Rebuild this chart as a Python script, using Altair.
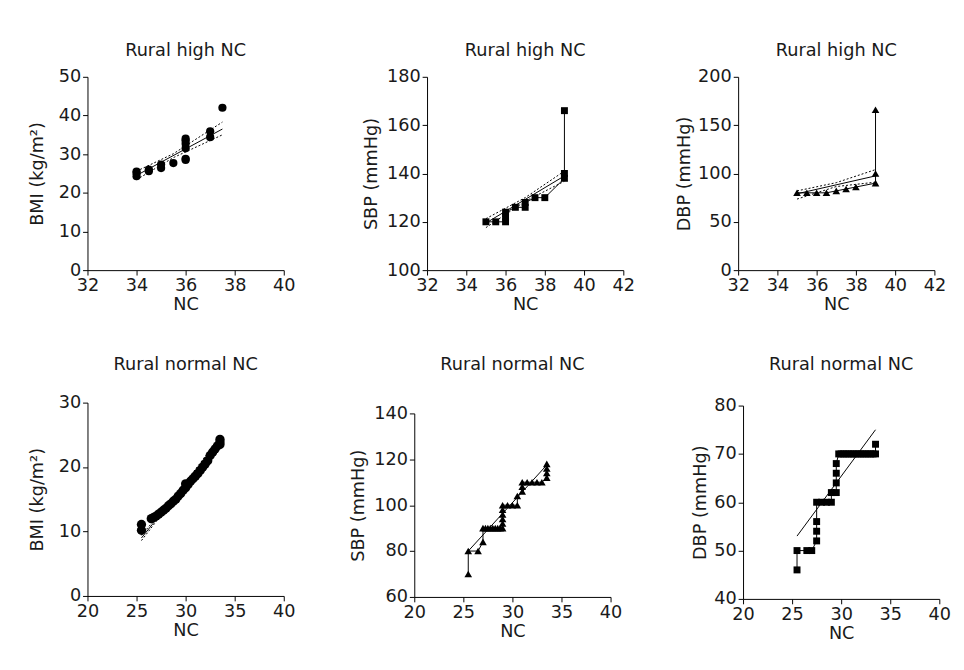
import altair as alt
import pandas as pd

FONT = "DejaVu Sans"

# ---------- Panel 1: Rural high NC, BMI ----------
p1_nc = [34, 34, 34, 34.5, 34.5, 35, 35, 35.5, 36, 36, 36, 36, 36, 36, 37, 37, 37.5]
p1_val = [24.3, 25.1, 25.5, 25.6, 26.0, 26.4, 27.3, 27.7, 28.5, 28.8, 31.5, 32.7, 33.5, 34.0, 34.4, 35.9, 42.0]
p1_fit_nc = [34, 37.5]
p1_fit = [24.5, 36.5]
p1_ci_nc = [34, 35.5, 37.5]
p1_ci_up = [25.6, 30.1, 38.3]
p1_ci_lo = [23.4, 29.1, 35.0]

# ---------- Panel 2: Rural high NC, SBP ----------
p2_nc = [35, 35.5, 36, 36, 36, 36.5, 37, 37, 37.5, 38, 39, 39, 39]
p2_val = [120, 120, 120, 122, 124, 126, 126, 128, 130, 130, 138, 140, 166]
p2_fit_nc = [35, 39]
p2_fit = [119.5, 139.0]
p2_ci_nc = [35, 37, 39]
p2_ci_up = [121.3, 130.0, 141.0]
p2_ci_lo = [117.6, 128.5, 136.8]

# ---------- Panel 3: Rural high NC, DBP ----------
p3_nc = [35, 35.5, 36, 36.5, 37, 37.5, 38, 39, 39, 39]
p3_val = [80, 80, 80, 80, 82, 84, 86, 90, 100, 166]
p3_fit_nc = [35, 39]
p3_fit = [79, 97.5]
p3_ci_nc = [35, 37, 39]
p3_ci_up = [82, 90.5, 104]
p3_ci_lo = [73.5, 86.5, 91]

# ---------- Panel 4: Rural normal NC, BMI ----------
p4_nc = [25.5, 25.5, 26.5, 26.75, 27, 27.25, 27.5, 27.75, 28, 28.25, 28.5, 28.75,
         29, 29.25, 29.5, 29.75, 30, 30, 30.25, 30.5, 30.75, 31, 31.25, 31.5,
         31.75, 32, 32.25, 32.5, 32.75, 33, 33.25, 33.5, 33.5, 33.5]
p4_val = [10.2, 11.1, 12.0, 12.2, 12.4, 12.7, 13.0, 13.3, 13.6, 14.0, 14.3, 14.7,
          15.0, 15.5, 15.9, 16.4, 16.8, 17.4, 17.3, 17.8, 18.2, 18.6, 19.0, 19.5,
          20.0, 20.5, 21.0, 21.8, 22.3, 22.8, 23.3, 23.5, 23.9, 24.3]
p4_fit_nc = [25.5, 33.5]
p4_fit = [9.0, 24.2]
p4_ci_nc = [25.5, 29.5, 33.5]
p4_ci_up = [9.4, 16.7, 24.6]
p4_ci_lo = [8.6, 16.5, 23.8]

# ---------- Panel 5: Rural normal NC, SBP ----------
p5_nc = [25.5, 25.5, 26.5, 27, 27, 27.25, 27.5, 27.75, 28, 28.25, 28.5, 28.75,
         29, 29, 29, 29, 29, 29, 29.5, 30, 30.5, 30.5, 31, 31, 31, 31.5, 32,
         32.5, 33, 33.5, 33.5, 33.5, 33.5]
p5_val = [70, 80, 80, 84, 90, 90, 90, 90, 90, 90, 90, 90,
          90, 92, 94, 96, 98, 100, 100, 100, 100, 104, 106, 108, 110, 110, 110,
          110, 110, 112, 114, 116, 118]
p5_fit_nc = [25.5, 33.5]
p5_fit = [80, 117.5]

# ---------- Panel 6: Rural normal NC, DBP ----------
p6_nc = [25.5, 25.5, 26.5, 27, 27.5, 27.5, 27.5, 27.5, 28, 28.5, 29, 29,
         29.5, 29.5, 29.5, 29.5, 29.75, 30, 30.25, 30.5, 30.75, 31, 31.25,
         31.5, 31.75, 32, 32.25, 32.5, 32.75, 33, 33.25, 33.5, 33.5]
p6_val = [46, 50, 50, 50, 52, 54, 56, 60, 60, 60, 60, 62,
          62, 64, 66, 68, 70, 70, 70, 70, 70, 70, 70,
          70, 70, 70, 70, 70, 70, 70, 70, 70, 72]
p6_fit_nc = [25.5, 33.5]
p6_fit = [53, 75]

titles = ["Rural high NC", "Rural high NC", "Rural high NC",
          "Rural normal NC", "Rural normal NC", "Rural normal NC"]
y_titles = ["BMI (kg/m²)", "SBP (mmHg)", "DBP (mmHg)",
            "BMI (kg/m²)", "SBP (mmHg)", "DBP (mmHg)"]


def title_params(title, toff):
    return alt.TitleParams(title, fontSize=18, font=FONT, fontWeight="normal",
                           color="#1a1a1a", offset=toff, anchor="middle", frame="group")


def panel(nc, val, shape, size, connect, fit_nc, fit, ci_nc, ci_up, ci_lo,
          xdom, xticks, ydom, yticks, title, ytitle, toff, ytp, h):
    xe = alt.X("x:Q", scale=alt.Scale(domain=xdom, nice=False, zero=False),
               axis=alt.Axis(values=xticks, title="NC", format="d"))
    ye = alt.Y("y:Q", scale=alt.Scale(domain=ydom, nice=False, zero=False),
               axis=alt.Axis(values=yticks, title=ytitle, titlePadding=ytp, format="d"))
    df = pd.DataFrame({"x": nc, "y": val, "i": list(range(len(nc)))})
    layers = []
    if ci_nc is not None:
        cdf = pd.DataFrame({
            "x": list(ci_nc) + list(ci_nc),
            "y": list(ci_up) + list(ci_lo),
            "band": ["upper"] * len(ci_nc) + ["lower"] * len(ci_nc),
        })
        layers.append(alt.Chart(cdf).mark_line(color="black", strokeWidth=1, strokeDash=[2, 2])
                      .encode(x=xe, y=ye, detail="band:N"))
    fdf = pd.DataFrame({"x": fit_nc, "y": fit})
    layers.append(alt.Chart(fdf).mark_line(color="black", strokeWidth=1).encode(x=xe, y=ye))
    if connect:
        layers.append(alt.Chart(df).mark_line(color="black", strokeWidth=1)
                      .encode(x=xe, y=ye, order="i:Q"))
    layers.append(alt.Chart(df).mark_point(filled=True, shape=shape, size=size,
                                           color="black", opacity=1)
                  .encode(x=xe, y=ye))
    props = dict(width=200, height=h)
    if title is not None:
        props["title"] = title_params(title, toff)
    return alt.layer(*layers).properties(**props)


def head(title):
    # thin invisible strip that carries a panel title
    return alt.Chart(pd.DataFrame({"x": [0]})).mark_point(size=1, opacity=0).encode(
        x=alt.value(0), y=alt.value(0)
    ).properties(width=200, height=1, title=title_params(title, 11))


c1 = panel(p1_nc, p1_val, "circle", 70, False, p1_fit_nc, p1_fit, p1_ci_nc, p1_ci_up, p1_ci_lo,
           [32, 40], [32, 34, 36, 38, 40], [0, 50], [0, 10, 20, 30, 40, 50],
           titles[0], y_titles[0], 8, 12, 197)
c2 = panel(p2_nc, p2_val, "square", 50, True, p2_fit_nc, p2_fit, p2_ci_nc, p2_ci_up, p2_ci_lo,
           [32, 42], [32, 34, 36, 38, 40, 42], [100, 180], [100, 120, 140, 160, 180],
           titles[1], y_titles[1], 8, 6, 197)
c3 = panel(p3_nc, p3_val, "triangle-up", 60, True, p3_fit_nc, p3_fit, p3_ci_nc, p3_ci_up, p3_ci_lo,
           [32, 42], [32, 34, 36, 38, 40, 42], [0, 200], [0, 50, 100, 150, 200],
           titles[2], y_titles[2], 8, 4, 197)
c4 = panel(p4_nc, p4_val, "circle", 90, False, p4_fit_nc, p4_fit, p4_ci_nc, p4_ci_up, p4_ci_lo,
           [20, 40], [20, 25, 30, 35, 40], [0, 30], [0, 10, 20, 30],
           None, y_titles[3], 21, 12, 197)
c5 = panel(p5_nc, p5_val, "triangle-up", 60, True, p5_fit_nc, p5_fit, None, None, None,
           [20, 40], [20, 25, 30, 35, 40], [60, 140], [60, 80, 100, 120, 140],
           None, y_titles[4], 21, 6, 187)
c6 = panel(p6_nc, p6_val, "square", 50, True, p6_fit_nc, p6_fit, None, None, None,
           [20, 40], [20, 25, 30, 35, 40], [40, 80], [40, 50, 60, 70, 80],
           None, y_titles[5], 21, 4, 197)

col4 = alt.vconcat(head(titles[3]), c4, spacing=8)
col5 = alt.vconcat(head(titles[4]), c5, spacing=19)
col6 = alt.vconcat(head(titles[5]), c6, spacing=11)

row1 = alt.hconcat(alt.hconcat(c1, c2, spacing=68), c3, spacing=41)
row2 = alt.hconcat(alt.hconcat(col4, col5, spacing=55), col6, spacing=71)

chart = alt.vconcat(row1, row2, spacing=43).properties(
    padding={"left": 21, "top": 29, "right": 5, "bottom": 5},
    background="white",
).configure_view(stroke=None).configure_axis(
    grid=False,
    domainColor="black",
    tickColor="black",
    tickSize=5,
    labelColor="#1a1a1a",
    titleColor="#1a1a1a",
    labelFont=FONT,
    titleFont=FONT,
    labelFontSize=18,
    titleFontSize=18,
    titleFontWeight="normal",
    labelPadding=2,
    labelFlush=False,
    labelOverlap=False,
).configure_axisX(titlePadding=1)

chart.save("out.html", embed_options={"renderer": "svg", "actions": False})
